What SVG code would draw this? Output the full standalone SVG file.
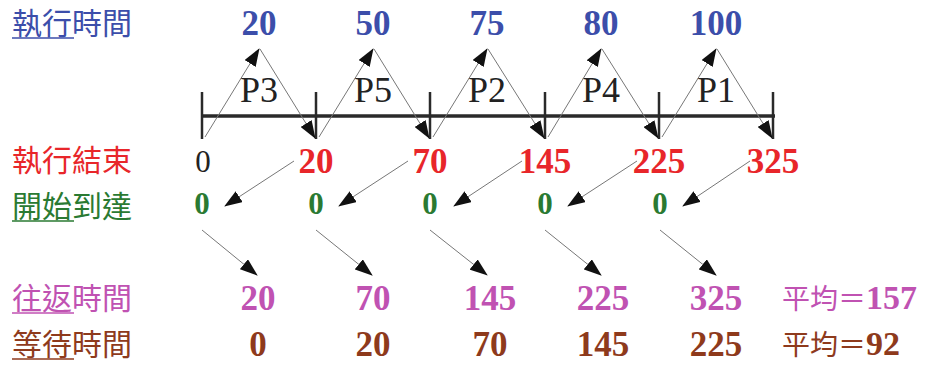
<svg xmlns="http://www.w3.org/2000/svg" width="926" height="365" viewBox="0 0 926 365">
<defs>
<marker id="ah" viewBox="0 0 18 13" refX="17" refY="6.5" markerWidth="18" markerHeight="13" markerUnits="userSpaceOnUse" orient="auto"><path d="M0,0 L18,6.5 L0,13 Z" fill="#111"/></marker>
<style>
.cjk{font-family:"Noto Sans CJK TC","Noto Sans CJK SC",sans-serif;font-size:30px}
.num{font-family:"Liberation Serif",serif;font-weight:bold;font-size:35px;text-anchor:middle}
.p{font-family:"Liberation Serif",serif;font-size:36px;text-anchor:middle;fill:#222}
.blue{fill:#3c4eaa}.red{fill:#e8262a}.green{fill:#2a7a32}.pink{fill:#c052b2}.brown{fill:#8e3a1c}
.arr{stroke:#777;stroke-width:1;fill:none;marker-end:url(#ah)}
.axis{stroke:#2a2a2a;fill:none}
</style>
</defs>
<g id="labels">
<g id="label-exec"><text class="cjk blue" x="12" y="34">執行時間</text><line x1="12" y1="38" x2="74" y2="38" stroke="#3c4eaa" stroke-width="1.5"/></g>
<g id="label-end"><text class="cjk red" x="12" y="171">執行結束</text></g>
<g id="label-start"><text class="cjk green" x="12" y="217">開始到達</text><line x1="12" y1="221" x2="74" y2="221" stroke="#2a7a32" stroke-width="1.5"/></g>
<g id="label-turn"><text class="cjk pink" x="12" y="309">往返時間</text><line x1="12" y1="313" x2="74" y2="313" stroke="#c052b2" stroke-width="1.5"/></g>
<g id="label-wait"><text class="cjk brown" x="12" y="355">等待時間</text><line x1="12" y1="359" x2="74" y2="359" stroke="#8e3a1c" stroke-width="1.5"/></g>
</g>
<g id="exec-times" class="num blue">
<text x="259" y="35">20</text><text x="373" y="35">50</text><text x="487" y="35">75</text><text x="601" y="35">80</text><text x="716" y="35">100</text>
</g>
<g id="timeline">
<line class="axis" x1="202" y1="116" x2="775" y2="116" stroke-width="3.5"/>
<g class="axis" stroke-width="2.5">
<line x1="202" y1="92" x2="202" y2="139"/><line x1="316" y1="92" x2="316" y2="139"/><line x1="430" y1="92" x2="430" y2="139"/><line x1="545" y1="92" x2="545" y2="139"/><line x1="659" y1="92" x2="659" y2="139"/><line x1="773" y1="92" x2="773" y2="139"/>
</g>
</g>
<g id="processes" class="p">
<text x="259" y="102">P3</text><text x="373" y="102">P5</text><text x="487" y="102">P2</text><text x="601" y="102">P4</text><text x="716" y="102">P1</text>
</g>
<g id="end-times">
<text x="203" y="172" style="font-family:'Liberation Serif',serif;font-size:31px;text-anchor:middle;fill:#222">0</text>
<g class="num red"><text x="316" y="173">20</text><text x="430" y="173">70</text><text x="545" y="173">145</text><text x="659" y="173">225</text><text x="773" y="173">325</text></g>
</g>
<g id="arrivals" class="num green" style="font-size:31px">
<text x="202" y="214">0</text><text x="316" y="214">0</text><text x="430" y="214">0</text><text x="545" y="214">0</text><text x="660" y="214">0</text>
</g>
<g id="turnaround" class="num pink">
<text x="258" y="310">20</text><text x="373" y="310">70</text><text x="490" y="310">145</text><text x="603" y="310">225</text><text x="716" y="310">325</text>
</g>
<g id="waiting" class="num brown">
<text x="258" y="356">0</text><text x="373" y="356">20</text><text x="490" y="356">70</text><text x="603" y="356">145</text><text x="716" y="356">225</text>
</g>
<g id="averages">
<text x="782" y="309"><tspan class="cjk pink" style="font-size:28px">平均＝</tspan><tspan class="pink" style="font-family:'Liberation Serif',serif;font-weight:bold;font-size:34px">157</tspan></text>
<text x="782" y="355"><tspan class="cjk brown" style="font-size:28px">平均＝</tspan><tspan class="brown" style="font-family:'Liberation Serif',serif;font-weight:bold;font-size:34px">92</tspan></text>
</g>
<g id="connectors">
<path class="arr" d="M205,137 L259,49"/><path class="arr" d="M260,49 L315,138"/>
<path class="arr" d="M319,137 L373,49"/><path class="arr" d="M374,49 L429,138"/>
<path class="arr" d="M433,137 L487,49"/><path class="arr" d="M488,49 L544,138"/>
<path class="arr" d="M548,137 L601,49"/><path class="arr" d="M602,49 L658,138"/>
<path class="arr" d="M662,137 L716,49"/><path class="arr" d="M717,49 L772,138"/>
<path class="arr" d="M294,161 L225,206"/><path class="arr" d="M408,161 L339,206"/><path class="arr" d="M522,161 L454,206"/><path class="arr" d="M637,161 L568,206"/><path class="arr" d="M750,161 L683,206"/>
<path class="arr" d="M202,230 L257,275"/><path class="arr" d="M316,230 L372,275"/><path class="arr" d="M430,230 L487,275"/><path class="arr" d="M545,230 L601,275"/><path class="arr" d="M660,230 L716,275"/>
</g>
</svg>
